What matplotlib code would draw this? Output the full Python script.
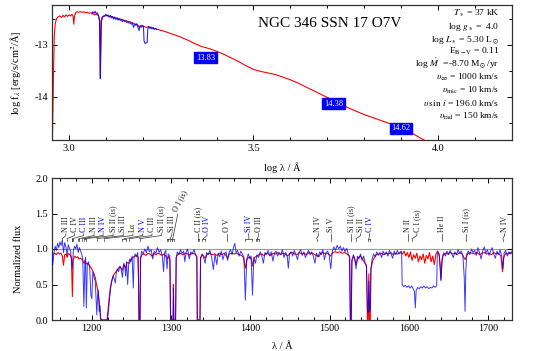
import matplotlib
matplotlib.use("Agg")
import matplotlib.pyplot as plt
from matplotlib.ticker import MultipleLocator

plt.rcParams['font.family'] = ['Liberation Serif', 'DejaVu Serif']
plt.rcParams['mathtext.fontset'] = 'stix'
plt.rcParams['axes.unicode_minus'] = False

# ---------------- top panel: SED ----------------
sed_model_logwl = [2.955, 2.958, 2.960, 2.963, 2.966, 2.970, 2.975, 2.980, 2.984, 2.988, 2.992, 2.996,
                   3.000, 3.004, 3.008, 3.011, 3.013, 3.015, 3.018, 3.022, 3.026, 3.030, 3.035, 3.040,
                   3.045, 3.050, 3.055, 3.060, 3.065, 3.070, 3.075, 3.080, 3.083, 3.085, 3.087, 3.090,
                   3.095, 3.100, 3.105, 3.110, 3.115, 3.120, 3.125, 3.130, 3.135, 3.140, 3.145, 3.150,
                   3.155, 3.160, 3.165, 3.170, 3.175, 3.180, 3.185, 3.190, 3.195, 3.200, 3.205, 3.210,
                   3.215, 3.22, 3.23, 3.24, 3.25, 3.26, 3.28, 3.30, 3.32, 3.34, 3.36, 3.38, 3.40, 3.42,
                   3.44, 3.46, 3.48, 3.50, 3.52, 3.54, 3.56, 3.58, 3.60, 3.62, 3.64, 3.66, 3.68, 3.70,
                   3.72, 3.74, 3.76, 3.78, 3.80, 3.82, 3.84, 3.86, 3.88, 3.90, 3.92, 3.94, 3.96, 3.98]
sed_model_logf = [-14.9, -13.6, -12.85, -12.58, -12.50, -12.46, -12.44, -12.47, -12.43, -12.46, -12.42, -12.45,
                  -12.42, -12.44, -12.41, -12.44, -12.60, -12.45, -12.38, -12.36, -12.37, -12.36, -12.37, -12.36,
                  -12.38, -12.37, -12.39, -12.38, -12.40, -12.42, -12.41, -12.44, -12.52, -13.62, -12.55, -12.46,
                  -12.44, -12.43, -12.44, -12.46, -12.45, -12.47, -12.48, -12.48, -12.50, -12.50, -12.51, -12.53,
                  -12.53, -12.55, -12.55, -12.57, -12.58, -12.60, -12.61, -12.65, -12.63, -12.63, -12.65, -12.66,
                  -12.65, -12.67, -12.68, -12.70, -12.72, -12.74, -12.79, -12.84, -12.90, -12.97, -13.03, -13.07,
                  -13.12, -13.18, -13.25, -13.32, -13.40, -13.47, -13.51, -13.54, -13.57, -13.62, -13.67, -13.73,
                  -13.80, -13.87, -13.94, -14.01, -14.08, -14.15, -14.22, -14.28, -14.34, -14.39, -14.44, -14.49,
                  -14.54, -14.59, -14.66, -14.74, -14.82, -14.89]

sed_obs_logwl = [3.062, 3.065, 3.068, 3.071, 3.074, 3.077, 3.080, 3.083, 3.0845, 3.085, 3.0865, 3.088,
                 3.091, 3.094, 3.097, 3.100, 3.103, 3.106, 3.109, 3.112, 3.115, 3.118, 3.121, 3.124,
                 3.127, 3.130, 3.133, 3.136, 3.139, 3.142, 3.145, 3.148, 3.151, 3.154, 3.157, 3.160,
                 3.163, 3.166, 3.169, 3.172, 3.175, 3.178, 3.181, 3.184, 3.187, 3.190, 3.193, 3.196,
                 3.199, 3.202, 3.2035, 3.206, 3.209, 3.212, 3.2135, 3.216, 3.219, 3.222, 3.225, 3.228,
                 3.231, 3.234, 3.238]
sed_obs_logf = [-12.40, -12.36, -12.39, -12.35, -12.40, -12.38, -12.43, -12.55, -13.2, -13.65, -13.0, -12.55,
                -12.47, -12.44, -12.45, -12.41, -12.44, -12.42, -12.46, -12.43, -12.48, -12.45, -12.50, -12.46,
                -12.51, -12.48, -12.52, -12.49, -12.53, -12.51, -12.55, -12.52, -12.55, -12.54, -12.57, -12.55,
                -12.58, -12.57, -12.60, -12.58, -12.66, -12.60, -12.62, -12.59, -12.66, -12.72, -12.63, -12.66,
                -12.62, -12.65, -12.92, -12.97, -12.96, -12.95, -12.70, -12.64, -12.68, -12.65, -12.69, -12.66,
                -12.70, -12.68, -12.70]

phot_labels = ["13.83", "14.38", "14.62"]
phot_logwl = [3.37, 3.717, 3.90]
phot_logf = [-13.25, -14.13, -14.60]

title_text = "NGC 346 SSN 17 O7V"
param_lines = [r"$T_\ast$ = 37 kK",
               r"log $g_\ast$ =  4.0",
               r"log $L_\ast$ = 5.30 L$_\odot$",
               r"E$_{\rm B-V}$ = 0.11",
               r"log $\dot M$  =-8.70 M$_\odot$/yr",
               r"$\upsilon_\infty$ = 1000 km/s",
               r"$\upsilon_{\rm mic}$ = 10 km/s",
               r"$\upsilon\,\sin\,i$ = 196.0 km/s",
               r"$\upsilon_{\rm rad}$ = 150 km/s"]

# ---------------- bottom panel: normalized spectrum ----------------
obs_wl = [1150.0, 1151.0, 1152.5, 1154.0, 1155.5, 1157.0, 1158.5, 1160.0, 1161.5, 1163.0, 1164.5, 1166.0,
          1167.5, 1169.0, 1170.5, 1172.0, 1173.5, 1175.5, 1177.0, 1178.5, 1180.0, 1181.5, 1183.0, 1184.5,
          1186.0, 1187.5, 1188.8, 1190.2, 1191.5, 1192.3, 1193.3, 1194.5, 1196.0, 1197.5, 1199.0, 1200.2,
          1201.5, 1203.0, 1204.5, 1205.5, 1206.5, 1207.5, 1208.5, 1209.5, 1210.5, 1211.5, 1213.0, 1219.5,
          1221.0, 1222.5, 1224.0, 1225.5, 1227.0, 1228.5, 1229.8, 1231.0, 1232.5, 1234.0, 1235.5, 1237.0,
          1238.8, 1240.5, 1242.0, 1242.8, 1244.0, 1245.4, 1246.8, 1248.0, 1249.5, 1251.0, 1252.5, 1253.5,
          1255.0, 1256.5, 1258.0, 1259.0, 1259.8, 1261.0, 1261.8, 1263.0, 1265.0, 1267.0, 1269.0, 1271.0,
          1273.0, 1275.0, 1277.0, 1279.0, 1281.0, 1283.0, 1285.0, 1287.0, 1289.0, 1290.7, 1292.0, 1293.5,
          1295.0, 1296.5, 1298.5, 1299.5, 1302.7, 1303.1, 1303.6, 1305.8, 1306.6, 1308.0, 1310.0, 1312.0,
          1314.0, 1316.0, 1317.5, 1319.0, 1321.0, 1323.0, 1325.0, 1327.0, 1329.0, 1331.0, 1332.6, 1333.2,
          1336.6, 1337.3, 1339.0, 1341.0, 1343.0, 1345.0, 1347.0, 1349.0, 1351.0, 1353.5, 1355.5, 1357.8,
          1359.5, 1361.5, 1363.5, 1365.5, 1367.5, 1369.5, 1371.3, 1373.0, 1375.0, 1377.0, 1379.0, 1380.5,
          1382.0, 1384.0, 1386.0, 1388.0, 1390.0, 1392.0, 1393.8, 1395.5, 1397.5, 1399.5, 1401.0, 1402.8,
          1404.5, 1406.5, 1408.5, 1410.5, 1412.5, 1414.5, 1416.5, 1418.5, 1420.5, 1422.5, 1424.5, 1426.5,
          1428.5, 1430.5, 1432.5, 1434.5, 1436.5, 1438.5, 1440.5, 1442.5, 1444.5, 1446.5, 1448.0, 1449.5,
          1451.5, 1453.5, 1455.5, 1457.5, 1459.5, 1461.5, 1463.5, 1465.5, 1467.5, 1469.5, 1471.5, 1473.5,
          1475.5, 1477.5, 1479.5, 1481.5, 1483.5, 1485.5, 1487.5, 1489.5, 1491.5, 1493.5, 1495.5, 1497.5,
          1499.5, 1501.5, 1503.5, 1505.5, 1507.5, 1509.5, 1511.5, 1513.5, 1515.5, 1517.5, 1519.5, 1521.5,
          1523.5, 1525.5, 1526.3, 1527.2, 1528.0, 1530.0, 1532.0, 1533.4, 1535.0, 1537.0, 1539.0, 1541.0,
          1543.0, 1545.0, 1546.5, 1547.8, 1548.6, 1549.5, 1550.4, 1551.2, 1552.0, 1553.5, 1555.5, 1557.5,
          1559.5, 1561.5, 1563.5, 1565.5, 1567.5, 1569.5, 1571.5, 1573.5, 1575.5, 1577.5, 1579.5, 1581.5,
          1583.5, 1585.5, 1587.5, 1589.5, 1590.8, 1591.5, 1593.5, 1595.5, 1597.5, 1599.5, 1601.5, 1603.5,
          1605.5, 1607.0, 1608.1, 1609.2, 1611.0, 1613.0, 1615.0, 1617.0, 1619.0, 1621.0, 1623.0, 1625.0,
          1627.0, 1629.0, 1631.0, 1633.0, 1635.0, 1635.8, 1637.0, 1638.5, 1640.4, 1642.0, 1644.0, 1646.0,
          1648.0, 1650.0, 1652.0, 1654.0, 1656.0, 1658.0, 1660.0, 1662.0, 1664.0, 1666.0, 1668.0, 1669.8,
          1670.8, 1671.8, 1673.0, 1675.0, 1677.0, 1679.0, 1681.0, 1683.0, 1685.0, 1687.0, 1689.0, 1691.0,
          1693.0, 1695.0, 1697.0, 1699.0, 1701.0, 1703.0, 1705.0, 1707.0, 1709.0, 1711.0, 1713.0, 1715.0,
          1717.0, 1718.5, 1720.0, 1722.0, 1724.0, 1726.0, 1728.0, 1730.0]
obs_flux = [0.92, 0.78, 0.95, 1.04, 0.98, 1.08, 1.02, 1.10, 1.05, 1.12, 0.95, 1.09,
            1.03, 0.92, 1.06, 1.01, 0.97, 0.72, 0.98, 1.04, 1.00, 1.07, 0.95, 1.02,
            0.97, 0.93, 0.85, 0.19, 0.82, 0.88, 0.17, 0.78, 0.82, 0.74, 0.35, 0.30,
            0.68, 0.60, 0.55, 0.30, 0.07, 0.35, 0.42, 0.12, 0.20, 0.02, 0.00, 0.00,
            0.10, 0.30, 0.45, 0.55, 0.62, 0.58, 0.52, 0.66, 0.72, 0.68, 0.76, 0.72,
            0.60, 0.80, 0.74, 0.62, 0.82, 0.50, 0.80, 0.86, 0.82, 0.90, 0.45, 0.88,
            0.93, 0.89, 0.95, 0.60, 0.00, 0.00, 0.85, 0.97, 0.93, 1.00, 0.95, 1.04,
            0.96, 0.99, 0.86, 0.97, 0.94, 1.02, 0.95, 0.99, 0.90, 0.68, 0.95, 0.98,
            0.72, 0.93, 0.90, 0.00, 0.00, 0.45, 0.00, 0.00, 0.88, 0.96, 0.92, 0.99,
            0.94, 0.97, 0.82, 0.95, 1.00, 0.86, 0.96, 0.93, 0.99, 0.92, 0.88, 0.00,
            0.00, 0.85, 0.93, 0.89, 0.80, 0.95, 0.92, 0.98, 0.90, 0.71, 0.93, 0.78,
            0.94, 0.89, 0.97, 0.85, 0.93, 0.96, 0.84, 0.94, 0.99, 0.92, 1.03, 1.08,
            0.95, 0.98, 0.90, 0.97, 0.93, 0.88, 0.28, 0.85, 0.93, 0.86, 0.90, 0.35,
            0.88, 0.80, 0.92, 0.88, 0.96, 0.91, 0.80, 0.95, 0.92, 0.98, 0.90, 0.96,
            0.83, 0.94, 0.97, 0.90, 0.95, 0.92, 0.99, 0.88, 0.95, 0.91, 0.73, 0.93,
            0.96, 0.90, 0.98, 0.92, 0.85, 0.95, 0.99, 0.91, 0.96, 0.88, 0.94, 0.98,
            0.92, 0.96, 0.90, 0.80, 0.94, 0.89, 0.96, 0.92, 0.99, 0.85, 0.95, 0.97,
            0.91, 0.72, 0.97, 1.03, 0.98, 1.05, 1.00, 1.04, 0.97, 1.02, 0.96, 1.01,
            0.93, 0.88, 0.00, 0.00, 0.82, 0.92, 0.85, 0.72, 0.90, 0.86, 0.93, 0.84,
            0.90, 0.80, 0.75, 0.15, 0.10, 0.55, 0.12, 0.15, 0.70, 0.85, 0.93, 0.89,
            0.96, 0.91, 0.95, 0.88, 0.97, 0.92, 0.96, 0.90, 0.98, 0.93, 0.87, 0.97,
            0.92, 0.98, 0.93, 0.96, 0.97, 0.50, 0.47, 0.49, 0.46, 0.48, 0.45, 0.48,
            0.44, 0.40, 0.17, 0.42, 0.46, 0.44, 0.47, 0.45, 0.48, 0.45, 0.47, 0.44,
            0.46, 0.45, 0.48, 0.46, 0.48, 0.92, 0.96, 0.90, 0.55, 0.88, 0.95, 0.90,
            0.97, 0.92, 0.98, 0.93, 0.88, 0.96, 0.92, 0.99, 0.94, 0.97, 0.91, 0.60,
            0.12, 0.70, 0.93, 0.97, 0.92, 1.00, 0.95, 0.98, 0.91, 1.02, 0.95, 0.86,
            0.97, 1.03, 0.94, 0.99, 0.91, 0.97, 1.02, 0.93, 0.87, 0.97, 0.92, 0.99,
            0.90, 0.72, 0.94, 0.98, 0.90, 0.96, 0.93, 0.97]

mod_wl = [1150.0, 1151.5, 1153.5, 1155.5, 1157.5, 1159.5, 1161.5, 1163.0, 1164.5, 1166.0, 1168.0, 1169.0,
          1170.5, 1172.5, 1174.5, 1175.7, 1176.8, 1178.5, 1180.5, 1182.5, 1184.0, 1186.0, 1188.0, 1190.3,
          1192.0, 1193.3, 1195.0, 1197.0, 1199.0, 1201.0, 1203.0, 1204.5, 1206.5, 1208.0, 1209.5, 1211.0,
          1211.5, 1219.5, 1220.5, 1222.0, 1223.5, 1225.0, 1226.5, 1228.0, 1230.0, 1232.0, 1234.0, 1236.0,
          1238.8, 1240.5, 1242.8, 1244.5, 1247.4, 1249.0, 1251.0, 1253.0, 1255.0, 1257.0, 1258.8, 1259.6,
          1260.9, 1261.6, 1263.5, 1266.0, 1268.5, 1271.0, 1273.5, 1276.0, 1278.5, 1281.0, 1283.5, 1286.0,
          1288.5, 1291.0, 1293.5, 1295.5, 1297.0, 1298.8, 1299.5, 1302.7, 1303.1, 1303.6, 1305.8, 1306.6,
          1309.0, 1312.0, 1315.0, 1318.0, 1321.0, 1324.0, 1327.0, 1330.0, 1332.6, 1333.2, 1336.6, 1337.3,
          1340.0, 1343.0, 1346.0, 1349.0, 1352.0, 1355.0, 1358.0, 1361.0, 1364.0, 1367.0, 1370.0, 1371.5,
          1373.5, 1376.5, 1380.0, 1383.0, 1386.0, 1389.0, 1391.5, 1393.8, 1396.0, 1399.0, 1401.0, 1402.8,
          1405.0, 1408.0, 1411.0, 1414.0, 1417.0, 1420.0, 1423.0, 1426.0, 1429.0, 1432.0, 1435.0, 1438.0,
          1441.0, 1444.0, 1447.0, 1450.0, 1453.0, 1456.0, 1459.0, 1462.0, 1465.0, 1468.0, 1471.0, 1474.0,
          1477.0, 1480.0, 1483.0, 1486.5, 1489.0, 1492.0, 1495.0, 1498.0, 1501.0, 1504.0, 1507.0, 1510.0,
          1513.0, 1516.0, 1519.0, 1522.0, 1525.0, 1526.1, 1527.3, 1528.2, 1530.5, 1533.4, 1536.0, 1539.0,
          1542.0, 1544.5, 1546.5, 1547.7, 1548.7, 1549.5, 1550.3, 1551.3, 1552.2, 1554.0, 1556.5, 1559.0,
          1562.0, 1565.0, 1568.0, 1571.0, 1574.0, 1577.0, 1580.0, 1583.0, 1586.0, 1589.0, 1592.0, 1594.0,
          1596.0, 1598.0, 1600.0, 1602.0, 1604.0, 1606.0, 1608.0, 1610.0, 1612.0, 1614.0, 1616.0, 1618.0,
          1620.0, 1622.0, 1624.0, 1626.0, 1628.0, 1630.0, 1632.0, 1634.0, 1636.0, 1638.0, 1639.5, 1640.4,
          1641.5, 1643.0, 1646.0, 1649.0, 1652.0, 1655.0, 1658.0, 1661.0, 1664.0, 1667.0, 1670.8, 1674.0,
          1677.0, 1680.0, 1683.0, 1686.0, 1689.0, 1692.0, 1695.0, 1698.0, 1701.0, 1704.0, 1707.0, 1710.0,
          1713.0, 1716.0, 1718.0, 1719.5, 1722.0, 1725.0, 1728.0, 1730.0]
mod_flux = [0.90, 0.93, 0.94, 0.92, 0.95, 0.93, 0.94, 0.90, 0.77, 0.92, 0.93, 0.88,
            0.94, 0.92, 0.88, 0.33, 0.85, 0.90, 0.88, 0.89, 0.86, 0.87, 0.85, 0.80,
            0.84, 0.79, 0.80, 0.77, 0.74, 0.70, 0.65, 0.60, 0.48, 0.40, 0.27, 0.04,
            0.00, 0.00, 0.12, 0.30, 0.45, 0.54, 0.60, 0.64, 0.67, 0.70, 0.73, 0.75,
            0.70, 0.78, 0.73, 0.81, 0.80, 0.85, 0.87, 0.89, 0.90, 0.91, 0.88, 0.00,
            0.00, 0.88, 0.92, 0.93, 0.91, 0.94, 0.93, 0.90, 0.94, 0.92, 0.94, 0.93,
            0.91, 0.93, 0.90, 0.86, 0.90, 0.85, 0.00, 0.00, 0.50, 0.00, 0.00, 0.88,
            0.93, 0.94, 0.92, 0.94, 0.93, 0.92, 0.94, 0.93, 0.90, 0.00, 0.00, 0.88,
            0.92, 0.87, 0.93, 0.94, 0.92, 0.93, 0.91, 0.94, 0.92, 0.94, 0.90, 0.87,
            0.93, 0.94, 0.93, 0.94, 0.92, 0.91, 0.88, 0.73, 0.86, 0.89, 0.87, 0.76,
            0.88, 0.90, 0.92, 0.93, 0.91, 0.94, 0.93, 0.91, 0.94, 0.93, 0.95, 0.92,
            0.94, 0.93, 0.90, 0.94, 0.95, 0.93, 0.92, 0.95, 0.93, 0.94, 0.92, 0.95,
            0.94, 0.93, 0.91, 0.89, 0.94, 0.95, 0.93, 0.94, 0.90, 0.95, 0.96, 0.95,
            0.96, 0.94, 0.95, 0.93, 0.90, 0.00, 0.00, 0.85, 0.90, 0.78, 0.88, 0.90,
            0.85, 0.80, 0.77, 0.00, 0.00, 0.65, 0.00, 0.00, 0.72, 0.82, 0.88, 0.92,
            0.93, 0.94, 0.92, 0.94, 0.93, 0.95, 0.92, 0.94, 0.93, 0.95, 0.93, 0.97,
            0.90, 0.95, 0.88, 0.96, 0.84, 0.92, 0.87, 0.94, 0.82, 0.90, 0.85, 0.93,
            0.80, 0.91, 0.86, 0.95, 0.82, 0.90, 0.78, 0.92, 0.97, 0.93, 0.75, 0.57,
            0.80, 0.91, 0.94, 0.93, 0.95, 0.93, 0.94, 0.92, 0.95, 0.93, 0.85, 0.93,
            0.95, 0.94, 0.93, 0.95, 0.92, 0.94, 0.95, 0.93, 0.94, 0.92, 0.95, 0.93,
            0.94, 0.90, 0.68, 0.88, 0.94, 0.93, 0.95, 0.94]

# line identifications: label text, label position, line positions, colour
id_text = ["N III", "C IV", "C III", "N III", "N IV", "Si II (is)", "Si III", "Lα", "N V", "C III",
           "Si II (is)", "Si III", "C II (is)", "O IV", "O V", "Si IV", "O III",
           "N IV", "Si V", "Si II (is)", "Si II", "C IV", "N II", "C I (is)", "He II", "Si I (is)", "N IV"]
id_label_wl = [1167.5, 1178.5, 1190.0, 1203.0, 1214.5, 1227.0, 1240.0, 1252.0, 1264.5, 1276.0,
               1288.0, 1301.0, 1334.9, 1345.5, 1370.7, 1398.0, 1410.5,
               1486.0, 1502.0, 1527.5, 1539.0, 1550.5, 1598.8, 1610.0, 1641.8, 1672.5, 1720.7]
id_line_wl = [[1163.0], [1169.0], [1174.9, 1175.7, 1176.4], [1183.0, 1184.5], [1188.0], [1190.4, 1193.3],
              [1206.5], [1215.7], [1238.8, 1242.8], [1247.4], [1260.4], [1294.5, 1296.7, 1298.9, 1301.1, 1303.3],
              [1334.5, 1335.7], [1338.6, 1343.0], [1370.7], [1393.8, 1402.8], [1407.4, 1409.0, 1410.5],
              [1483.5], [1502.0], [1527.5], [1533.4], [1548.2, 1550.8], [1598.8], [1604.0], [1641.8],
              [1672.5], [1718.5]]
id_blue = [False, False, True, False, True, False, False, False, True, False,
           False, False, False, True, False, True, False,
           False, False, False, False, True, False, False, False, False, False]
oi_text = "O I (is)"
oi_label_wl = 1308.5
oi_line_wl = 1302.2

RED = '#ff0000'
BLUE = '#0000ff'

fig = plt.figure(figsize=(5.38, 3.51), dpi=100)
ax1 = fig.add_axes([52/538, 1-140/351, 460/538, 135/351])
ax2 = fig.add_axes([52/538, 1-320/351, 460/538, 142/351])

for ax in (ax1, ax2):
    ax.tick_params(which='both', direction='in', top=True, right=True, labelsize=7.3, width=0.7, pad=3)
    ax.tick_params(which='major', length=3.5)
    ax.tick_params(which='minor', length=2)
    for s in ax.spines.values():
        s.set_linewidth(0.9)
        s.set_color('#333333')

# top
ax1.plot(sed_model_logwl, sed_model_logf, color=RED, lw=0.8, zorder=2)
ax1.plot(sed_obs_logwl, sed_obs_logf, color=BLUE, lw=0.8, alpha=0.85, zorder=3)
ax1.set_xlim(2.954, 4.201)
ax1.set_ylim(-14.83, -12.23)
ax1.xaxis.set_major_locator(MultipleLocator(0.5))
ax1.xaxis.set_minor_locator(MultipleLocator(0.1))
ax1.yaxis.set_major_locator(MultipleLocator(1.0))
ax1.yaxis.set_minor_locator(MultipleLocator(0.5))
ax1.set_xlabel("log λ / Å", fontsize=7.5)
ax1.xaxis.set_label_coords(0.5, -0.165)
ax1.set_ylabel(r"log f$_\lambda$ [erg/s/cm$^2$/Å]", fontsize=7.5)
ax1.yaxis.set_label_coords(-0.062, 0.5)
for t, x, y in zip(phot_labels, phot_logwl, phot_logf):
    ax1.text(x, y, t, ha='center', va='center', color='white', fontsize=6, zorder=5,
             bbox=dict(boxstyle='square,pad=0.18', fc=BLUE, ec=BLUE))
ax1.text(0.604, 0.863, title_text, transform=ax1.transAxes, ha='center', va='center', fontsize=11)
param_base_px = [15.7, 28.6, 41.5, 54.2, 67.3, 80.2, 93.1, 106.0, 118.9]
for line, b in zip(param_lines, param_base_px):
    ax1.text(0.972, (140 - b) / 135, line, transform=ax1.transAxes, ha='right', va='baseline',
             fontsize=6.8)

# bottom
ax2.axhline(1.0, color='#999999', lw=0.8, zorder=1)
ax2.plot(mod_wl, mod_flux, color=RED, lw=0.8, zorder=2)
ax2.plot(obs_wl, obs_flux, color=BLUE, lw=0.7, alpha=0.78, zorder=3)
ax2.set_xlim(1150, 1730)
ax2.set_ylim(0, 2.0)
ax2.xaxis.set_major_locator(MultipleLocator(100))
ax2.xaxis.set_minor_locator(MultipleLocator(20))
ax2.yaxis.set_major_locator(MultipleLocator(0.5))
ax2.set_xlabel("λ / Å", fontsize=7.5)
ax2.xaxis.set_label_coords(0.5, -0.153)
ax2.set_ylabel("Normalized flux", fontsize=7.5)
ax2.yaxis.set_label_coords(-0.062, 0.43)

y_text, y0, y1, y2, y3 = 1.235, 1.215, 1.19, 1.145, 1.11
lc = '#333333'
for txt, lx, lines, isblue in zip(id_text, id_label_wl, id_line_wl, id_blue):
    col = BLUE if isblue else '#222222'
    ax2.text(lx, y_text, txt, rotation=90, ha='center', va='bottom', fontsize=5.8, color=col)
    if len(lines) == 1 and abs(lines[0] - lx) < 0.5:
        ax2.plot([lx, lx], [y0, y3], color=lc, lw=0.5)
        continue
    lo, hi = min(lines), max(lines)
    mid = lo if len(lines) == 1 else 0.5 * (lo + hi)
    ax2.plot([lx, lx, mid], [y0, y1, y2], color=lc, lw=0.5)
    if len(lines) > 1:
        ax2.plot([lo, hi], [y2, y2], color=lc, lw=0.5)
    for w in lines:
        ax2.plot([w, w], [y2, y3], color=lc, lw=0.5)
ax2.text(oi_label_wl, 1.50, oi_text, rotation=62, rotation_mode='anchor', ha='left', va='bottom',
         fontsize=5.8, color='#222222')
ax2.plot([oi_label_wl, oi_line_wl, oi_line_wl], [1.49, y2, y3], color=lc, lw=0.5)

fig.savefig("out.png", dpi=100)
